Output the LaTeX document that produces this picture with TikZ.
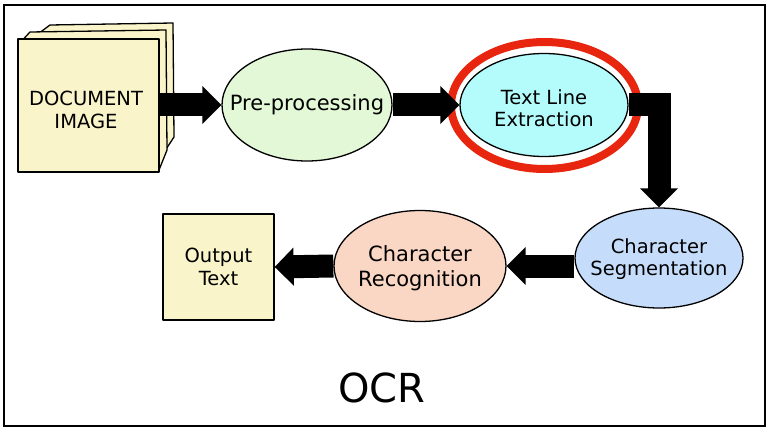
\documentclass[tikz,border=0pt]{standalone}
\usepackage{fontspec}
\setmainfont{DejaVu Sans}
\usetikzlibrary{shapes.geometric,arrows.meta,backgrounds}
\definecolor{docfill}{HTML}{F9F4C9}
\definecolor{prefill}{HTML}{E2F8D6}
\definecolor{tlefill}{HTML}{B4FBFB}
\definecolor{csfill}{HTML}{C5DDFA}
\definecolor{crfill}{HTML}{FAD6C4}
\definecolor{ringred}{HTML}{E8250F}
\begin{document}
\begin{tikzpicture}[x=1pt,y=-1pt,
  ell/.style={ellipse,draw,line width=1.3pt,inner sep=0pt},
  page/.style={draw,fill=docfill,line width=1.3pt,line join=round},
  lbl/.style={align=center,font=\fontsize{19.5}{22.5}\selectfont},
  lblbig/.style={align=center,font=\fontsize{21}{25}\selectfont},
  blk/.style={line width=23pt,line join=miter,-{Triangle[length=19pt,width=37pt]}}]
\useasboundingbox (0,0) rectangle (771,433);
\draw[line width=1.3pt] (4,5) rectangle (765,426);
% stacked pages
\draw[page] (50,25) -- (173,23) -- (174,137) -- (159,160) -- (30,40) -- cycle;
\draw[page] (30,32) -- (166,30) -- (167,150) -- (159,170) -- (18,45) -- cycle;
\node[page,minimum width=141pt,minimum height=133pt,inner sep=0pt] (doc) at (88.5,105.5) {};
\node[lbl] (doctxt) at (86,110) {DOCUMENT\\IMAGE};
% process nodes
\node[ell,fill=prefill,minimum width=170pt,minimum height=112pt] (pre) at (307,105) {};
\node[lblbig] (pretxt) at (pre) {Pre-processing};
\node[ell,fill=tlefill,minimum width=168pt,minimum height=103pt] (tle) at (544,105) {};
\node[lbl] (tletxt) at (544,108) {Text Line\\Extraction};
\node[ell,draw=ringred,line width=8pt,minimum width=187pt,minimum height=127pt] (ring) at (544.5,105.5) {};
\node[ell,fill=csfill,minimum width=168pt,minimum height=100pt] (cs) at (659,258) {};
\node[lbl] (cstxt) at (659,259) {Character\\Segmentation};
\node[ell,fill=crfill,minimum width=172pt,minimum height=111pt] (cr) at (420,266) {};
\node[lblbig] (crtxt) at (420,268) {Character\\Recognition};
\node[page,minimum width=111pt,minimum height=106pt,inner sep=0pt] (out) at (218.5,267) {};
\node[lbl] (outtxt) at (out) {Output\\Text};
\node[font=\fontsize{40}{48}\selectfont] (ocr) at (382,388) {OCR};
% arrows
\draw[blk] (doc.east |- pre.west) -- (pre.west);
\draw[blk] (pre.east |- tle.west) -- (tle.west);
\draw[blk] (tle.east) -- (tle.east -| cs.north) -- (cs.north);
\begin{scope}[on background layer]
\draw[blk] (cs.west |- cr.east) -- (cr.east);
\draw[blk] (cr.west) -- (out.east);
\end{scope}
\end{tikzpicture}
\end{document}
